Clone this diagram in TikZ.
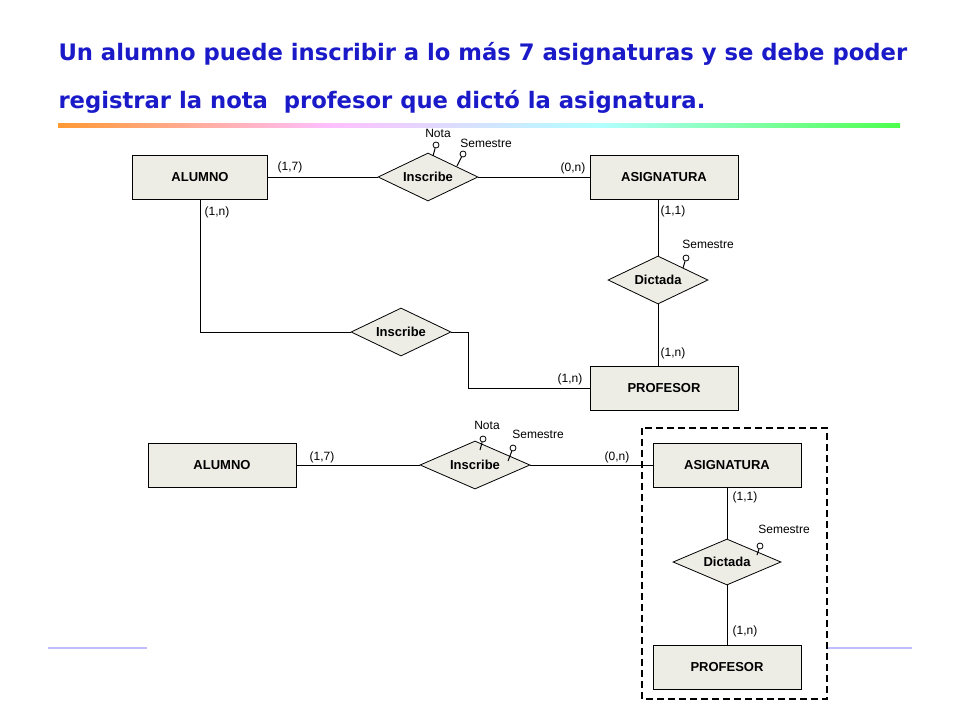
\documentclass[tikz,border=0pt]{standalone}
\usepackage{fontspec}
\setmainfont{Liberation Sans}
\newfontfamily\titlefont{DejaVu Sans}
\usetikzlibrary{shapes.geometric}
\definecolor{erfill}{HTML}{EDEDE6}
\definecolor{titleblue}{HTML}{1A1AC8}
\tikzset{
  entity/.style={rectangle, draw, thick, fill=erfill, minimum width=148pt, minimum height=44pt, font=\fontsize{13}{15}\selectfont\bfseries},
  relation/.style={diamond, draw, thick, fill=erfill, aspect=2.1, inner sep=0pt, minimum width=100pt, minimum height=48pt, font=\fontsize{13}{15}\selectfont\bfseries},
  card/.style={font=\fontsize{12}{14}\selectfont},
  attr/.style={circle, draw, thick, fill=white, inner sep=0pt, minimum size=6pt}
}
\begin{document}
\begin{tikzpicture}[x=1pt, y=-1pt, line width=1pt]
\useasboundingbox (0,0) rectangle (960,720);
\node[anchor=base west, inner sep=0pt, text=titleblue, font=\titlefont\fontsize{22.7}{26}\selectfont\bfseries] (t1) at (58,60) {Un alumno puede inscribir a lo más 7 asignaturas y se debe poder};
\node[anchor=base west, inner sep=0pt, text=titleblue, font=\titlefont\fontsize{22.7}{26}\selectfont\bfseries] (t2) at (58,108) {registrar la nota\ \ profesor que dictó la asignatura.};
\shade[left color=orange!80, right color=cyan!30, middle color=magenta!25] (58,123) rectangle (600,127);
\shade[left color=cyan!30, right color=green!70] (600,123) rectangle (900,127);
\draw[blue!25, line width=2pt] (48,648) -- (147,648);
\draw[blue!25, line width=2pt] (828,648) -- (912,648);

% upper diagram
\node[entity, minimum width=135pt] (alumno) at (200,177) {ALUMNO};
\node[relation] (inscribe) at (428,177) {Inscribe};
\node[entity] (asignatura) at (664,177) {ASIGNATURA};
\node[relation] (dictada) at (658,280) {Dictada};
\node[entity] (profesor) at (664,388) {PROFESOR};
\node[relation] (inscribeb) at (401,332) {Inscribe};
\coordinate (c1) at (200,332);
\coordinate (c2) at (468,332);
\coordinate (c3) at (468,388);
\draw (alumno) -- (inscribe) -- (asignatura);
\draw (asignatura.south -| dictada) -- (dictada) -- (profesor.north -| dictada);
\draw (alumno.south -| c1) -- (c1) -- (inscribeb.west);
\draw (inscribeb.east) -- (c2) -- (c3) -- (profesor.west);
\node[card] (k1) at (290,167) {(1,7)};
\node[card] (k2) at (573,168) {(0,n)};
\node[card] (k3) at (217,212) {(1,n)};
\node[card] (k4) at (673,211) {(1,1)};
\node[card] (k5) at (673,353) {(1,n)};
\node[card] (k6) at (570,379) {(1,n)};
\node[attr] (nota) at (436,145) {};
\node[card] (notal) at (438,133) {Nota};
\node[attr] (sem) at (463,154) {};
\node[card] (seml) at (486,143) {Semestre};
\node[attr] (semd) at (686,258) {};
\node[card] (semdl) at (708,244) {Semestre};
\draw (nota) -- (433,156);
\draw (sem) -- (457,166);
\draw (semd) -- (683,268);

% lower diagram
\node[entity] (alumnoB) at (222,465) {ALUMNO};
\node[relation, minimum width=110pt] (inscribeB) at (475,465) {Inscribe};
\node[entity] (asignaturaB) at (727,465) {ASIGNATURA};
\node[relation, minimum width=108pt, minimum height=46pt] (dictadaB) at (727,562) {Dictada};
\node[entity] (profesorB) at (727,667) {PROFESOR};
\draw (alumnoB) -- (inscribeB) -- (asignaturaB);
\draw (asignaturaB) -- (dictadaB) -- (profesorB);
\draw[dash pattern=on 7pt off 4pt, line width=1.2pt] (642,428) rectangle (827,699);
\node[card] (kb1) at (322,457) {(1,7)};
\node[card] (kb2) at (617,457) {(0,n)};
\node[card] (kb3) at (745,497) {(1,1)};
\node[card] (kb4) at (745,631) {(1,n)};
\node[attr] (notaB) at (483,439) {};
\node[card] (notaBl) at (487,425) {Nota};
\node[attr] (semB) at (513,448) {};
\node[card] (semBl) at (538,434) {Semestre};
\node[attr] (semdB) at (760,546) {};
\node[card] (semdBl) at (784,529) {Semestre};
\draw (notaB) -- (480,450);
\draw (semB) -- (508,461);
\draw (semdB) -- (757,555);
\end{tikzpicture}
\end{document}
